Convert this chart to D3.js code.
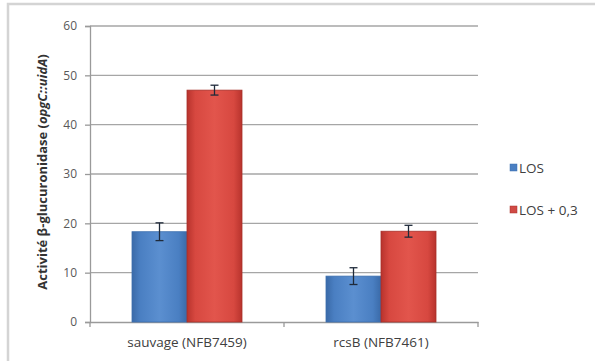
<!DOCTYPE html>
<html>
<head>
<meta charset="utf-8">
<title>Activité β-glucuronidase</title>
<script src="https://d3js.org/d3.v7.min.js"></script>
<style>
  body { margin: 0; background: #fff; }
  text { font-family: "Open Sans", "DejaVu Sans", sans-serif; }
</style>
</head>
<body>
<svg width="595" height="361"></svg>
<script>
// data
var categories = ["sauvage (NFB7459)", "rcsB (NFB7461)"];
var seriesNames = ["LOS", "LOS + 0,3"];
var losValues = [18.3, 9.3];
var losErrors = [1.8, 1.7];
var los03Values = [47.0, 18.4];
var los03Errors = [1.0, 1.2];
var yTicks = [0, 10, 20, 30, 40, 50, 60];

var svg = d3.select("svg");

// outer frame (cut off on right and bottom)
svg.append("rect")
    .attr("x", 8).attr("y", 4)
    .attr("width", 600).attr("height", 400)
    .attr("fill", "#fff")
    .attr("stroke", "#d4d4d4")
    .attr("stroke-width", 2.5);

var margin = {left: 90, right: 478, top: 26, bottom: 322};

var x0 = d3.scaleBand()
    .domain(categories)
    .range([margin.left, margin.right]);

var x1 = d3.scaleBand()
    .domain(seriesNames)
    .range([0, 110]);

var y = d3.scaleLinear()
    .domain([0, 60])
    .range([margin.bottom, margin.top]);

var defs = svg.append("defs");
function grad(id, light, mid, dark) {
  var g = defs.append("linearGradient").attr("id", id)
      .attr("x1", 0).attr("x2", 1).attr("y1", 0).attr("y2", 0);
  g.append("stop").attr("offset", "0%").attr("stop-color", dark);
  g.append("stop").attr("offset", "15%").attr("stop-color", mid);
  g.append("stop").attr("offset", "50%").attr("stop-color", light);
  g.append("stop").attr("offset", "85%").attr("stop-color", mid);
  g.append("stop").attr("offset", "100%").attr("stop-color", dark);
}
grad("gBlue", "#5b8fd0", "#4a7fc2", "#3a6aa8");
grad("gRed", "#e2554c", "#d74840", "#b8332d");
var colors = {"LOS": "url(#gBlue)", "LOS + 0,3": "url(#gRed)"};
var strokes = {"LOS": "#3d6fae", "LOS + 0,3": "#a8302a"};
var swatch = {"LOS": "#4a7fc2", "LOS + 0,3": "#d04a45"};

// gridlines
svg.append("g")
  .selectAll("line")
  .data(yTicks.filter(function(d) { return d > 0; }))
  .enter().append("line")
    .attr("x1", margin.left).attr("x2", margin.right)
    .attr("y1", function(d) { return y(d); })
    .attr("y2", function(d) { return y(d); })
    .attr("stroke", "#a6a6a6")
    .attr("stroke-width", 1.3);

// y axis
var yAxis = svg.append("g")
    .attr("transform", "translate(" + margin.left + ",0)")
    .call(d3.axisLeft(y).tickValues(yTicks).tickSize(5).tickPadding(8));
yAxis.select(".domain").attr("stroke", "#9a9a9a").attr("stroke-width", 1.3);
yAxis.selectAll(".tick line").attr("stroke", "#9a9a9a").attr("stroke-width", 1.3);
yAxis.selectAll(".tick text")
    .attr("fill", "#595959")
    .attr("font-size", 12)
    .style("font-family", "Open Sans, sans-serif");

// x axis
var xAxis = svg.append("g")
    .attr("transform", "translate(0," + margin.bottom + ")")
    .call(d3.axisBottom(x0).tickSize(0).tickPadding(15));
xAxis.select(".domain").attr("stroke", "#9a9a9a").attr("stroke-width", 1.3);
xAxis.selectAll(".tick text")
    .attr("fill", "#404040")
    .attr("font-size", 13.5)
    .style("font-family", "Open Sans, sans-serif");
// category separator ticks
svg.append("g")
  .selectAll("line")
  .data([margin.left, (margin.left + margin.right) / 2, margin.right])
  .enter().append("line")
    .attr("x1", function(d) { return d; }).attr("x2", function(d) { return d; })
    .attr("y1", margin.bottom).attr("y2", margin.bottom + 5)
    .attr("stroke", "#9a9a9a").attr("stroke-width", 1.3);

// bars
var rows = categories.map(function(c, i) {
  return [
    {cat: c, s: "LOS", v: losValues[i], e: losErrors[i]},
    {cat: c, s: "LOS + 0,3", v: los03Values[i], e: los03Errors[i]}
  ];
});

var groups = svg.append("g")
  .selectAll("g")
  .data(rows)
  .enter().append("g")
    .attr("transform", function(d) {
      return "translate(" + (x0(d[0].cat) + x0.bandwidth() / 2 - 55) + ",0)";
    });

groups.selectAll("rect")
  .data(function(d) { return d; })
  .enter().append("rect")
    .attr("x", function(d) { return x1(d.s); })
    .attr("y", function(d) { return y(d.v); })
    .attr("width", x1.bandwidth())
    .attr("height", function(d) { return y(0) - y(d.v); })
    .attr("fill", function(d) { return colors[d.s]; })
    .attr("stroke", function(d) { return strokes[d.s]; })
    .attr("stroke-width", 0.8);

// error bars
var eb = groups.selectAll("g.err")
  .data(function(d) { return d; })
  .enter().append("g").attr("class", "err")
    .attr("stroke", "#1f2a3a")
    .attr("stroke-width", 1.3);
eb.append("line")
    .attr("x1", function(d) { return x1(d.s) + x1.bandwidth() / 2; })
    .attr("x2", function(d) { return x1(d.s) + x1.bandwidth() / 2; })
    .attr("y1", function(d) { return y(d.v - d.e); })
    .attr("y2", function(d) { return y(d.v + d.e); });
eb.selectAll("line.cap")
  .data(function(d) { return [d.v - d.e, d.v + d.e].map(function(v) { return {s: d.s, v: v}; }); })
  .enter().append("line").attr("class", "cap")
    .attr("x1", function(d) { return x1(d.s) + x1.bandwidth() / 2 - 4; })
    .attr("x2", function(d) { return x1(d.s) + x1.bandwidth() / 2 + 4; })
    .attr("y1", function(d) { return y(d.v); })
    .attr("y2", function(d) { return y(d.v); });

// y label
var ylab = svg.append("text")
    .attr("transform", "translate(47," + 172 + ") rotate(-90)")
    .attr("text-anchor", "middle")
    .attr("font-size", 13)
    .attr("font-weight", "bold")
    .attr("fill", "#333");
ylab.append("tspan").text("Activité β-glucuronidase (");
ylab.append("tspan").attr("font-style", "italic").text("opgC::uidA");
ylab.append("tspan").text(")");

// legend
var legend = svg.append("g")
  .selectAll("g")
  .data(seriesNames)
  .enter().append("g")
    .attr("transform", function(d, i) { return "translate(510," + (168 + i * 42) + ")"; });
legend.append("rect")
    .attr("x", 0).attr("y", -4)
    .attr("width", 7).attr("height", 7)
    .attr("fill", function(d) { return swatch[d]; })
    .attr("stroke", function(d) { return strokes[d]; })
    .attr("stroke-width", 0.5);
legend.append("text")
    .attr("x", 9).attr("y", 0)
    .attr("dy", "0.35em")
    .attr("font-size", 13.5)
    .attr("fill", "#404040")
    .text(function(d) { return d; });
</script>
</body>
</html>
